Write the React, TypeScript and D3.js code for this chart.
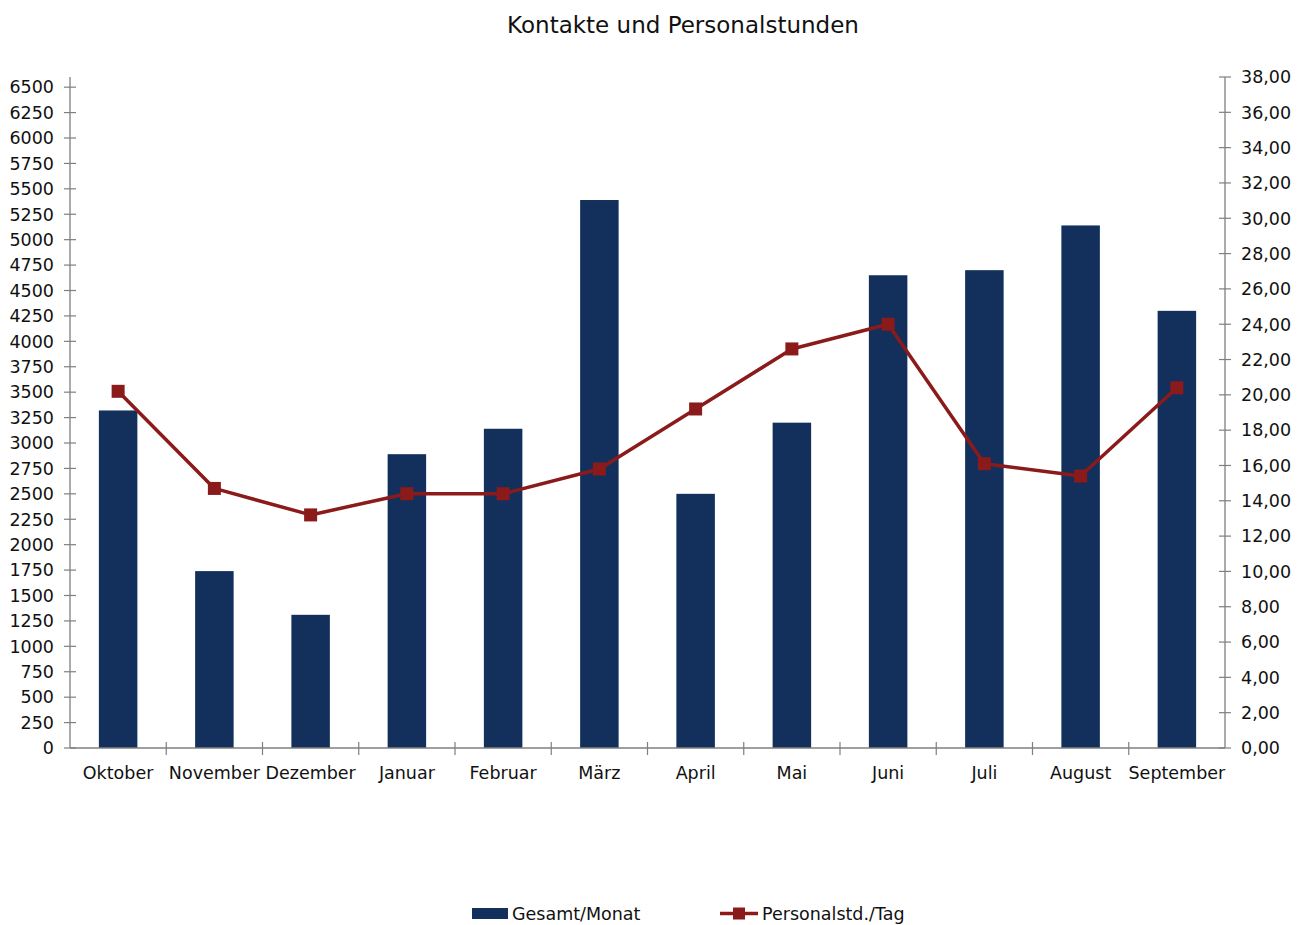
import React from "react";
import * as d3 from "d3";

const months = ["Oktober", "November", "Dezember", "Januar", "Februar", "März", "April", "Mai", "Juni", "Juli", "August", "September"];
const gesamt = [3320, 1740, 1310, 2890, 3140, 5390, 2500, 3200, 4650, 4700, 5140, 4300];
const personal = [20.2, 14.7, 13.2, 14.4, 14.4, 15.8, 19.2, 22.6, 24.0, 16.1, 15.4, 20.4];
const leftTicks = d3.range(0, 6501, 250);
const rightTicks = d3.range(0, 38.01, 2);

const W = 1309, H = 925;
const L = 70, R = 1225, T = 77, B = 748;
const BAR = "#13305d";
const LINE = "#8b1a1a";
const AXIS = "#7f7f7f";
const FONT = "'DejaVu Sans', Verdana, sans-serif";

export default function App() {
  const x = d3.scaleBand<string>().domain(months).range([L, R]).paddingInner(0).paddingOuter(0);
  const yL = d3.scaleLinear().domain([0, 6600]).range([B, T]);
  const yR = d3.scaleLinear().domain([0, 38]).range([B, T]);
  const bw = x.bandwidth() * 0.4;
  const cx = (m: string) => (x(m) as number) + x.bandwidth() / 2;
  const line = d3.line<number>().x((_, i) => cx(months[i])).y((d) => yR(d));
  const fmt = (v: number) => v.toFixed(2).replace(".", ",");
  return (
    <svg width={W} height={H} style={{ display: "block", position: "absolute", left: 0, top: 0 }} fontFamily={FONT}>
      <rect width={W} height={H} fill="#fff" />
      <text x={683} y={33} textAnchor="middle" fontSize={23} fill="#111">Kontakte und Personalstunden</text>
      {months.map((m, i) => (
        <rect key={m} x={cx(m) - bw / 2} y={yL(gesamt[i])} width={bw} height={B - yL(gesamt[i])} fill={BAR} />
      ))}
      {/* left axis */}
      <line x1={L} x2={L} y1={T} y2={B} stroke={AXIS} strokeWidth={1.3} />
      {leftTicks.map((t) => (
        <g key={t}>
          <line x1={L - 6} x2={L + 6} y1={yL(t)} y2={yL(t)} stroke={AXIS} strokeWidth={1.2} />
          <text x={54} y={yL(t)} dy="0.36em" textAnchor="end" fontSize={17.5} fill="#111">{t}</text>
        </g>
      ))}
      {/* right axis */}
      <line x1={R} x2={R} y1={T} y2={B} stroke={AXIS} strokeWidth={1.3} />
      {rightTicks.map((t) => (
        <g key={t}>
          <line x1={R - 6} x2={R + 6} y1={yR(t)} y2={yR(t)} stroke={AXIS} strokeWidth={1.2} />
          <text x={1241} y={yR(t)} dy="0.36em" textAnchor="start" fontSize={17.5} fill="#111">{fmt(t)}</text>
        </g>
      ))}
      {/* x axis */}
      <line x1={L} x2={R} y1={B} y2={B} stroke={AXIS} strokeWidth={1.3} />
      {months.map((m, i) => (
        <g key={m}>
          {i > 0 && <line x1={x(m)} x2={x(m)} y1={B - 6} y2={B + 7} stroke={AXIS} strokeWidth={1.2} />}
          <text x={cx(m)} y={779} textAnchor="middle" fontSize={17.5} fill="#111">{m}</text>
        </g>
      ))}
      <path d={line(personal) || ""} fill="none" stroke={LINE} strokeWidth={3.5} strokeLinejoin="round" />
      {personal.map((v, i) => (
        <rect key={i} x={cx(months[i]) - 6.5} y={yR(v) - 6.5} width={13} height={13} fill={LINE} />
      ))}
      {/* legend */}
      <rect x={472} y={908} width={36} height={11} fill={BAR} />
      <text x={512} y={920} fontSize={17.5} fill="#111">Gesamt/Monat</text>
      <line x1={720} x2={758} y1={913.5} y2={913.5} stroke={LINE} strokeWidth={3.5} />
      <rect x={733} y={907.5} width={12} height={12} fill={LINE} />
      <text x={762} y={920} fontSize={17.5} fill="#111">Personalstd./Tag</text>
    </svg>
  );
}
